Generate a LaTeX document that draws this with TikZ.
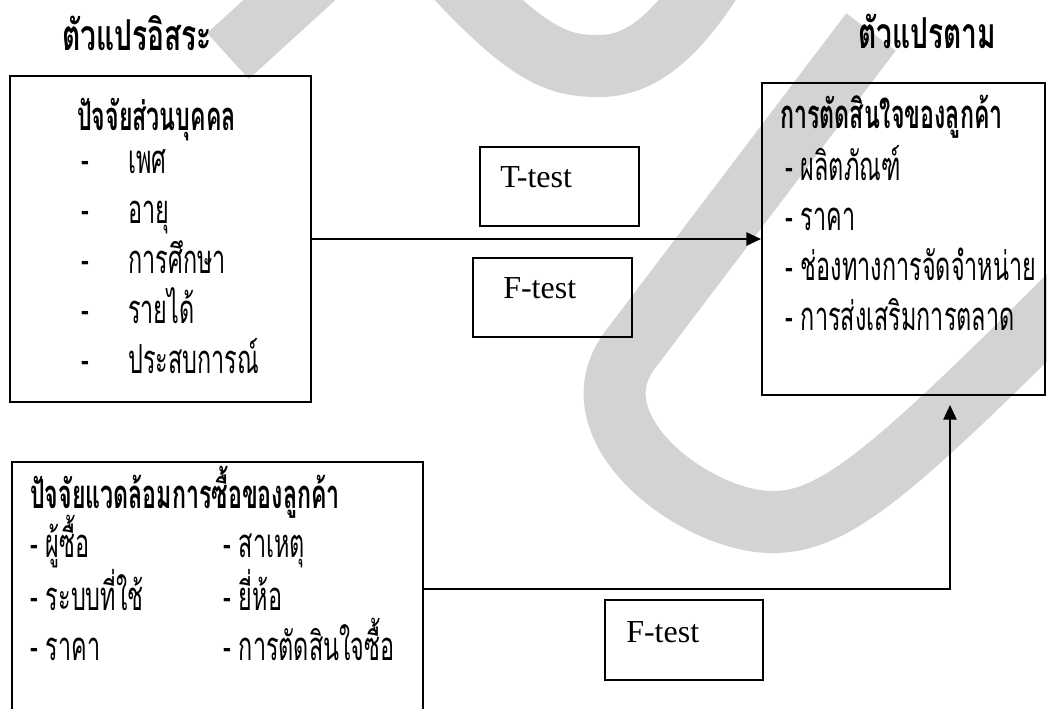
\documentclass[tikz,border=0pt]{standalone}
\usepackage{fontspec}
\setmainfont{Liberation Serif}
\newfontfamily\thai[Script=Thai, FakeStretch=0.585]{Loma}
\newfontfamily\thaihd[Script=Thai, FakeStretch=0.58]{Loma}
\newfontfamily\thaittl[Script=Thai, FakeStretch=0.66]{Loma}
\usetikzlibrary{arrows.meta}
\definecolor{wm}{RGB}{211,211,211}
\newdimen\pxu \pxu=0.75pt
\tikzset{
  wmark/.style={draw=wm, line width=62\pxu, line cap=butt},
  bigbox/.style={draw, line width=1.5pt, inner sep=0pt},
  testbox/.style={draw, line width=1.2pt, inner sep=0pt, minimum width=159\pxu, minimum height=79\pxu},
  txt/.style={anchor=base west, inner sep=0pt, font=\thai\fontsize{30}{34}\selectfont},
  hd/.style={font=\thaihd\bfseries\fontsize{30}{34}\selectfont},
  ttl/.style={font=\thaittl\bfseries\fontsize{32}{36}\selectfont},
  lat/.style={anchor=base west, inner sep=0pt, font=\fontsize{24}{28}\selectfont},
  conn/.style={line width=1.1pt, -{Triangle[length=11pt,width=10pt]}}
}
\begin{document}
\begin{tikzpicture}[x=0.75pt,y=-0.75pt]
\path[use as bounding box] (0,0) rectangle (1047,708);
\begin{scope}
\clip (0,0) rectangle (1047,708);
% watermark
\draw[wmark] (228,56) -- (330,-37);
\draw[wmark] (440,-40) .. controls (530,60) and (560,66) .. (600,66) .. controls (650,66) and (690,20) .. (730,-50);
\draw[wmark] (871,32) -- (630,350) .. controls (570,430) and (700,525) .. (776,522) .. controls (840,520) and (900,465) .. (1100,265);
% boxes
\node[bigbox, minimum width=301\pxu, minimum height=326\pxu] (b1) at (160.5,239) {};
\node[bigbox, minimum width=283\pxu, minimum height=312\pxu] (rb) at (903.5,239) {};
\node[bigbox, minimum width=411\pxu, minimum height=254\pxu] (b3) at (217.5,589) {};
\node[testbox] (tb) at (559.5,186.5) {};
\node[testbox] (fb1) at (552.5,297.5) {};
\node[testbox, minimum width=158\pxu, minimum height=80\pxu] (fb2) at (684,640) {};
% titles
\node[txt,ttl] (t1) at (62,50) {ตัวแปรอิสระ};
\node[txt,ttl] (t2) at (858,48) {ตัวแปรตาม};
% box 1
\node[txt,hd] (h1) at (77,130) {ปัจจัยส่วนบุคคล};
\node[txt] (d1) at (81,173) {-};
\node[txt] (d2) at (81,223) {-};
\node[txt] (d3) at (81,273) {-};
\node[txt] (d4) at (81,323) {-};
\node[txt] (d5) at (81,373) {-};
\node[txt] (i1) at (128,173) {เพศ};
\node[txt] (i2) at (128,223) {อายุ};
\node[txt] (i3) at (128,273) {การศึกษา};
\node[txt] (i4) at (128,323) {รายได้};
\node[txt] (i5) at (128,373) {ประสบการณ์};
% right box
\node[txt,hd] (h2) at (780,128) {การตัดสินใจของลูกค้า};
\node[txt] (r1) at (785,180) {- ผลิตภัณฑ์};
\node[txt] (r2) at (785,230) {- ราคา};
\node[txt] (r3) at (785,280) {- ช่องทางการจัดจำหน่าย};
\node[txt] (r4) at (785,330) {- การส่งเสริมการตลาด};
% box 3
\node[txt,hd] (h3) at (30,508) {ปัจจัยแวดล้อมการซื้อของลูกค้า};
\node[txt] (c1) at (30,557) {- ผู้ซื้อ};
\node[txt] (c2) at (223,557) {- สาเหตุ};
\node[txt] (c3) at (30,610) {- ระบบที่ใช้};
\node[txt] (c4) at (223,610) {- ยี่ห้อ};
\node[txt] (c5) at (30,660) {- ราคา};
\node[txt] (c6) at (223,660) {- การตัดสินใจซื้อ};
% test labels
\node[lat] (tl) at (500,187) {T-test};
\node[lat] (fl1) at (503,298) {F-test};
\node[lat] (fl2) at (626,642) {F-test};
% connectors
\coordinate (j) at (950,589);
\coordinate (tip) at (950,405);
\draw[conn] (b1.east) -- (rb.west);
\draw[conn] (b3.east) -- (j) -- (tip);
\end{scope}
\end{tikzpicture}
\end{document}
